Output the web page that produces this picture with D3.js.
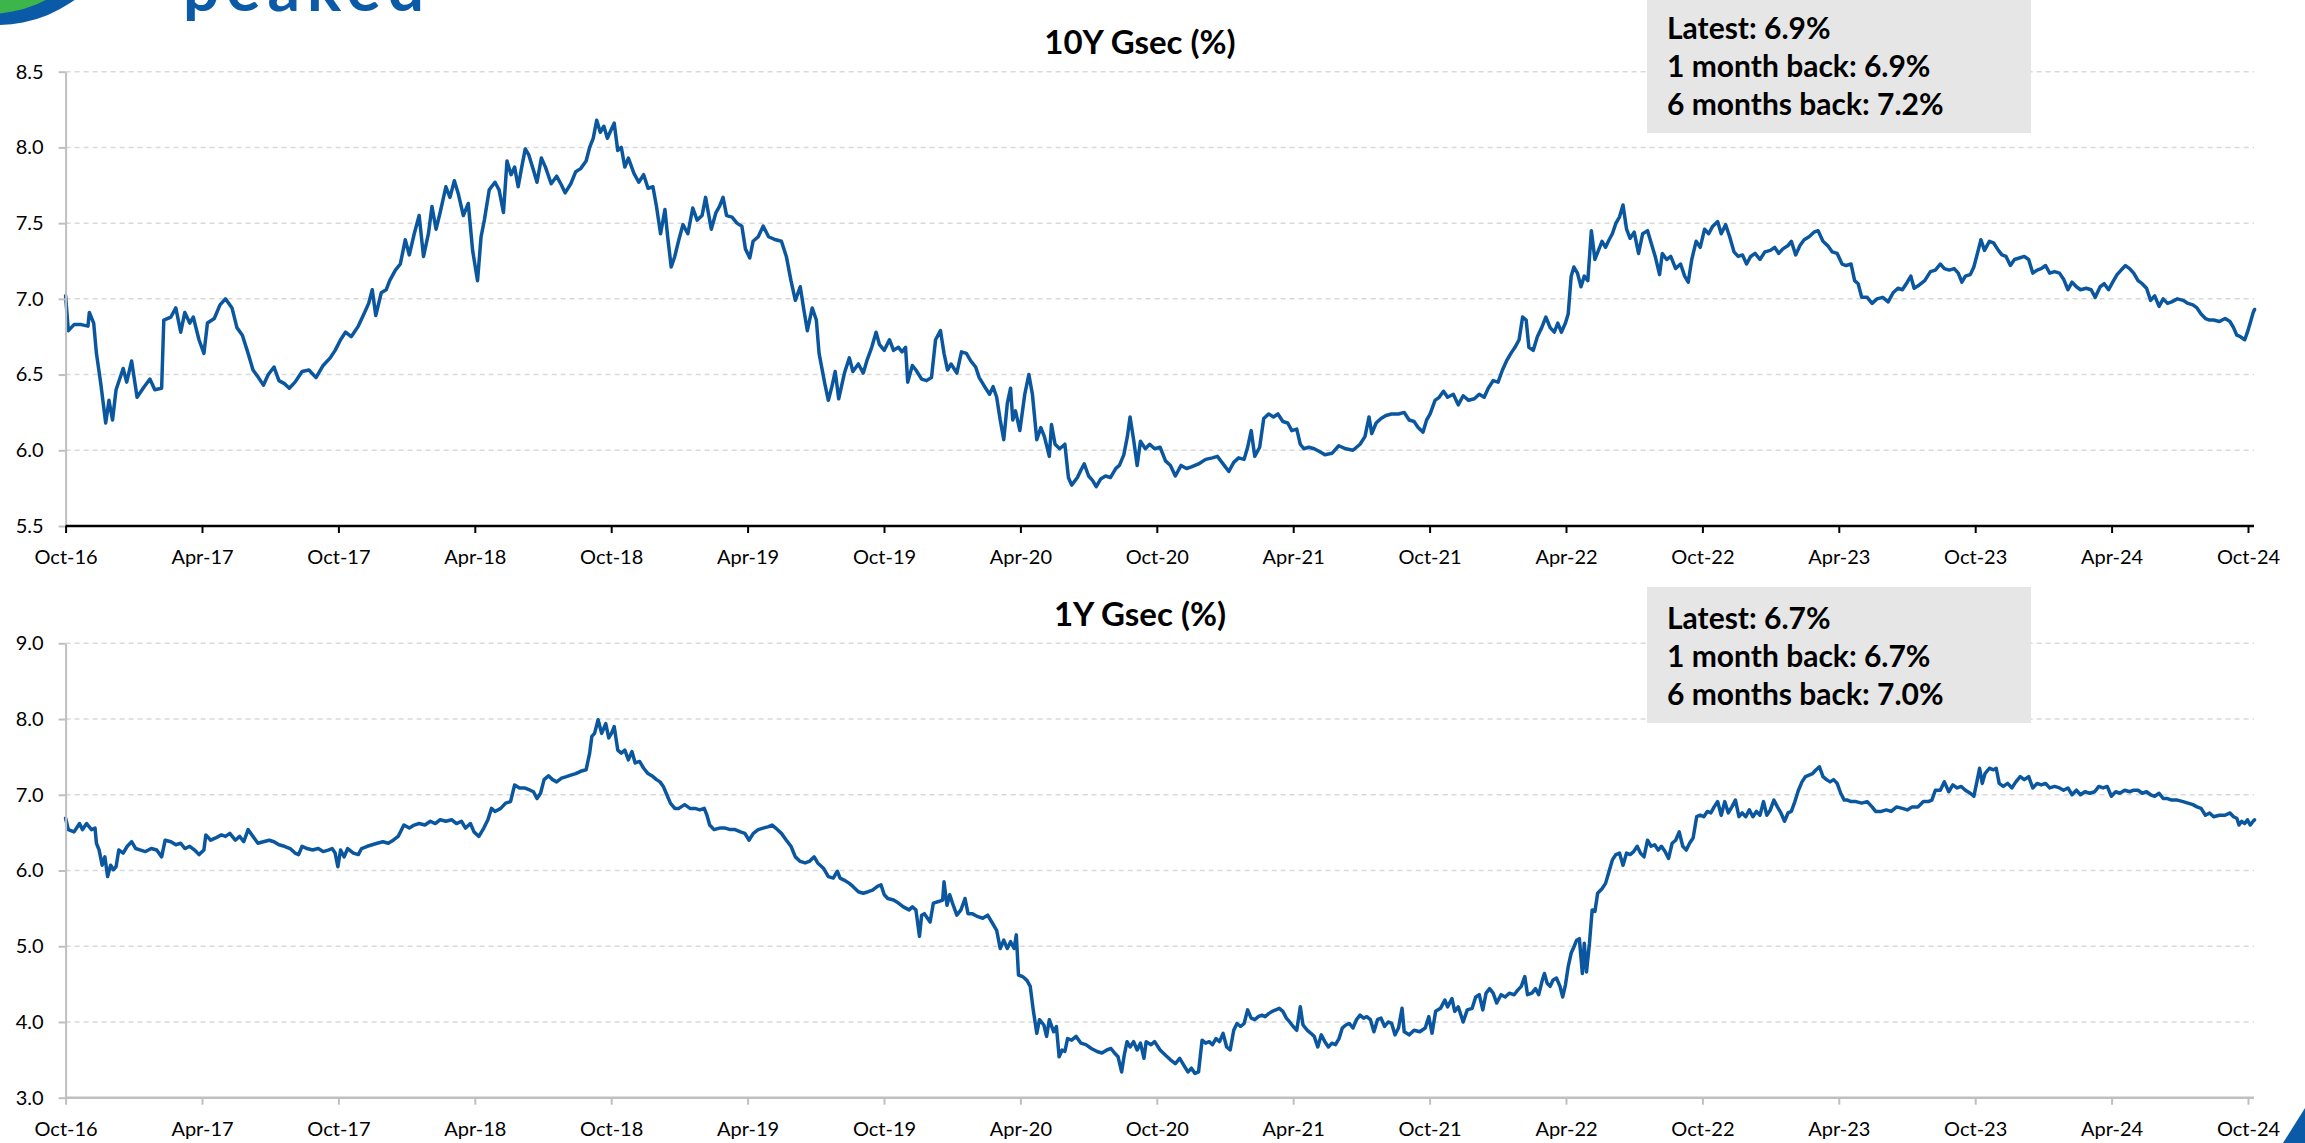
<!DOCTYPE html>
<html><head><meta charset="utf-8">
<script src="https://cdn.jsdelivr.net/npm/d3@7"></script>
<style>html,body{margin:0;padding:0;background:#fff;} svg{display:block;}</style>
</head><body><svg id="chart" width="2305" height="1143"></svg>
<script>
// ---------- DATA ----------
const tickLabels = ["Oct-16","Apr-17","Oct-17","Apr-18","Oct-18","Apr-19","Oct-19","Apr-20","Oct-20","Apr-21","Oct-21","Apr-22","Oct-22","Apr-23","Oct-23","Apr-24","Oct-24"];
const tenYearTicks = [5.5, 6.0, 6.5, 7.0, 7.5, 8.0, 8.5];
const oneYearTicks = [3.0, 4.0, 5.0, 6.0, 7.0, 8.0, 9.0];
const tenYearTitle = "10Y Gsec (%)";
const oneYearTitle = "1Y Gsec (%)";
const tenYearInfo = ["Latest: 6.9%", "1 month back: 6.9%", "6 months back: 7.2%"];
const oneYearInfo = ["Latest: 6.7%", "1 month back: 6.7%", "6 months back: 7.0%"];

// [decimal year, yield %]
const tenYearSeries = [[2016.750,7.02],[2016.760,6.79],[2016.781,6.83],[2016.807,6.83],[2016.832,6.82],[2016.837,6.91],[2016.853,6.84],[2016.863,6.64],[2016.879,6.44],[2016.897,6.18],[2016.909,6.33],[2016.922,6.20],[2016.935,6.40],[2016.961,6.54],[2016.974,6.45],[2016.992,6.59],[2017.012,6.35],[2017.038,6.42],[2017.059,6.47],[2017.077,6.40],[2017.102,6.41],[2017.110,6.86],[2017.136,6.88],[2017.154,6.94],[2017.172,6.78],[2017.187,6.91],[2017.205,6.84],[2017.218,6.88],[2017.239,6.73],[2017.257,6.64],[2017.270,6.84],[2017.295,6.87],[2017.316,6.96],[2017.336,7.00],[2017.360,6.94],[2017.378,6.81],[2017.398,6.76],[2017.419,6.64],[2017.437,6.53],[2017.457,6.48],[2017.475,6.43],[2017.493,6.50],[2017.514,6.55],[2017.532,6.46],[2017.552,6.44],[2017.570,6.41],[2017.591,6.45],[2017.617,6.52],[2017.642,6.53],[2017.668,6.48],[2017.694,6.56],[2017.720,6.61],[2017.738,6.66],[2017.758,6.73],[2017.776,6.78],[2017.797,6.75],[2017.823,6.82],[2017.841,6.89],[2017.861,6.97],[2017.874,7.06],[2017.887,6.89],[2017.907,7.04],[2017.925,7.06],[2017.938,7.12],[2017.959,7.19],[2017.977,7.23],[2017.995,7.39],[2018.010,7.29],[2018.028,7.43],[2018.046,7.55],[2018.062,7.28],[2018.080,7.43],[2018.093,7.61],[2018.108,7.46],[2018.123,7.57],[2018.144,7.74],[2018.159,7.67],[2018.175,7.78],[2018.190,7.69],[2018.208,7.55],[2018.226,7.63],[2018.242,7.32],[2018.260,7.12],[2018.273,7.41],[2018.285,7.52],[2018.303,7.72],[2018.324,7.77],[2018.339,7.72],[2018.355,7.57],[2018.368,7.91],[2018.383,7.82],[2018.396,7.87],[2018.409,7.74],[2018.422,7.87],[2018.435,7.99],[2018.448,7.95],[2018.465,7.85],[2018.478,7.77],[2018.494,7.93],[2018.509,7.87],[2018.530,7.76],[2018.550,7.81],[2018.568,7.75],[2018.581,7.70],[2018.602,7.76],[2018.620,7.84],[2018.638,7.86],[2018.658,7.91],[2018.671,8.00],[2018.684,8.06],[2018.697,8.18],[2018.710,8.10],[2018.723,8.14],[2018.736,8.06],[2018.748,8.11],[2018.761,8.16],[2018.774,7.98],[2018.787,8.00],[2018.800,7.87],[2018.813,7.93],[2018.833,7.83],[2018.851,7.77],[2018.869,7.82],[2018.885,7.73],[2018.903,7.74],[2018.916,7.61],[2018.931,7.43],[2018.947,7.59],[2018.957,7.41],[2018.970,7.21],[2018.983,7.28],[2018.998,7.39],[2019.013,7.49],[2019.031,7.43],[2019.049,7.60],[2019.065,7.52],[2019.083,7.55],[2019.096,7.67],[2019.117,7.46],[2019.134,7.57],[2019.147,7.61],[2019.160,7.67],[2019.173,7.55],[2019.193,7.54],[2019.211,7.50],[2019.229,7.48],[2019.242,7.33],[2019.258,7.27],[2019.270,7.38],[2019.289,7.41],[2019.307,7.48],[2019.327,7.41],[2019.353,7.39],[2019.374,7.38],[2019.392,7.28],[2019.409,7.12],[2019.425,6.99],[2019.443,7.08],[2019.456,6.93],[2019.469,6.79],[2019.487,6.94],[2019.502,6.86],[2019.512,6.64],[2019.533,6.44],[2019.546,6.33],[2019.559,6.42],[2019.571,6.52],[2019.584,6.34],[2019.605,6.51],[2019.623,6.61],[2019.636,6.52],[2019.656,6.57],[2019.674,6.51],[2019.687,6.59],[2019.705,6.68],[2019.721,6.78],[2019.733,6.70],[2019.751,6.66],[2019.770,6.73],[2019.785,6.66],[2019.803,6.68],[2019.816,6.65],[2019.829,6.68],[2019.837,6.45],[2019.854,6.56],[2019.867,6.53],[2019.888,6.47],[2019.906,6.46],[2019.924,6.48],[2019.939,6.73],[2019.957,6.79],[2019.970,6.64],[2019.983,6.53],[2019.996,6.57],[2020.017,6.51],[2020.034,6.65],[2020.052,6.64],[2020.068,6.59],[2020.086,6.55],[2020.099,6.48],[2020.119,6.42],[2020.137,6.37],[2020.150,6.42],[2020.163,6.35],[2020.176,6.20],[2020.189,6.07],[2020.202,6.31],[2020.214,6.41],[2020.222,6.20],[2020.232,6.26],[2020.248,6.13],[2020.266,6.37],[2020.281,6.50],[2020.294,6.37],[2020.310,6.07],[2020.325,6.15],[2020.338,6.09],[2020.356,5.96],[2020.364,6.17],[2020.377,6.04],[2020.394,6.01],[2020.413,6.04],[2020.426,5.82],[2020.438,5.77],[2020.459,5.82],[2020.472,5.87],[2020.484,5.91],[2020.500,5.83],[2020.515,5.80],[2020.528,5.76],[2020.544,5.81],[2020.562,5.83],[2020.580,5.82],[2020.600,5.88],[2020.613,5.90],[2020.629,5.97],[2020.642,6.09],[2020.652,6.22],[2020.665,6.07],[2020.678,5.90],[2020.690,6.06],[2020.708,6.01],[2020.724,6.04],[2020.742,6.01],[2020.762,6.02],[2020.782,5.93],[2020.800,5.90],[2020.818,5.83],[2020.839,5.90],[2020.859,5.88],[2020.877,5.89],[2020.903,5.91],[2020.929,5.94],[2020.954,5.95],[2020.972,5.96],[2020.993,5.91],[2021.014,5.86],[2021.032,5.92],[2021.050,5.95],[2021.070,5.94],[2021.083,6.02],[2021.096,6.13],[2021.109,5.96],[2021.127,6.02],[2021.142,6.21],[2021.160,6.24],[2021.178,6.22],[2021.194,6.24],[2021.212,6.19],[2021.230,6.18],[2021.245,6.13],[2021.263,6.14],[2021.276,6.04],[2021.289,6.01],[2021.307,6.02],[2021.327,6.01],[2021.348,5.99],[2021.366,5.97],[2021.392,5.98],[2021.417,6.03],[2021.443,6.01],[2021.469,6.00],[2021.495,6.04],[2021.513,6.09],[2021.528,6.22],[2021.538,6.11],[2021.554,6.18],[2021.572,6.21],[2021.590,6.23],[2021.610,6.24],[2021.636,6.24],[2021.657,6.25],[2021.675,6.20],[2021.693,6.19],[2021.708,6.15],[2021.726,6.12],[2021.739,6.20],[2021.752,6.24],[2021.770,6.33],[2021.785,6.35],[2021.801,6.39],[2021.816,6.35],[2021.837,6.37],[2021.855,6.30],[2021.873,6.36],[2021.893,6.33],[2021.914,6.34],[2021.932,6.37],[2021.950,6.35],[2021.965,6.41],[2021.983,6.46],[2022.001,6.45],[2022.017,6.53],[2022.032,6.59],[2022.048,6.64],[2022.063,6.68],[2022.078,6.73],[2022.091,6.88],[2022.104,6.86],[2022.114,6.68],[2022.130,6.66],[2022.145,6.75],[2022.161,6.81],[2022.176,6.88],[2022.192,6.81],[2022.207,6.78],[2022.220,6.84],[2022.233,6.78],[2022.248,6.84],[2022.258,6.90],[2022.269,7.15],[2022.279,7.21],[2022.292,7.17],[2022.305,7.08],[2022.317,7.15],[2022.330,7.12],[2022.343,7.45],[2022.356,7.26],[2022.369,7.32],[2022.382,7.38],[2022.395,7.34],[2022.408,7.39],[2022.420,7.43],[2022.433,7.50],[2022.446,7.54],[2022.459,7.62],[2022.472,7.46],[2022.485,7.40],[2022.500,7.44],[2022.516,7.30],[2022.531,7.43],[2022.549,7.45],[2022.562,7.37],[2022.577,7.28],[2022.593,7.16],[2022.603,7.30],[2022.619,7.26],[2022.634,7.28],[2022.652,7.20],[2022.670,7.23],[2022.685,7.15],[2022.698,7.11],[2022.711,7.26],[2022.727,7.38],[2022.742,7.34],[2022.758,7.46],[2022.773,7.43],[2022.788,7.48],[2022.806,7.51],[2022.819,7.43],[2022.835,7.49],[2022.850,7.41],[2022.866,7.31],[2022.881,7.28],[2022.897,7.29],[2022.912,7.23],[2022.927,7.28],[2022.943,7.30],[2022.961,7.26],[2022.979,7.31],[2022.999,7.32],[2023.015,7.34],[2023.030,7.30],[2023.045,7.33],[2023.063,7.35],[2023.076,7.38],[2023.092,7.29],[2023.107,7.35],[2023.123,7.39],[2023.141,7.41],[2023.159,7.44],[2023.174,7.45],[2023.192,7.38],[2023.210,7.35],[2023.226,7.31],[2023.244,7.30],[2023.262,7.23],[2023.277,7.22],[2023.295,7.23],[2023.308,7.12],[2023.321,7.10],[2023.334,7.01],[2023.354,7.01],[2023.372,6.97],[2023.390,7.00],[2023.411,7.01],[2023.431,6.98],[2023.449,7.04],[2023.467,7.07],[2023.483,7.06],[2023.501,7.11],[2023.514,7.15],[2023.526,7.07],[2023.544,7.09],[2023.565,7.12],[2023.586,7.18],[2023.604,7.19],[2023.622,7.23],[2023.637,7.20],[2023.655,7.19],[2023.673,7.20],[2023.688,7.17],[2023.701,7.11],[2023.714,7.15],[2023.732,7.16],[2023.745,7.21],[2023.761,7.32],[2023.771,7.39],[2023.784,7.32],[2023.802,7.38],[2023.817,7.37],[2023.835,7.32],[2023.848,7.29],[2023.863,7.28],[2023.879,7.22],[2023.894,7.26],[2023.912,7.27],[2023.930,7.28],[2023.946,7.26],[2023.961,7.17],[2023.977,7.19],[2023.992,7.20],[2024.008,7.22],[2024.023,7.17],[2024.041,7.18],[2024.059,7.17],[2024.074,7.13],[2024.090,7.06],[2024.105,7.11],[2024.121,7.08],[2024.136,7.06],[2024.157,7.07],[2024.175,7.06],[2024.190,7.01],[2024.208,7.08],[2024.223,7.10],[2024.239,7.06],[2024.254,7.11],[2024.270,7.16],[2024.285,7.19],[2024.301,7.22],[2024.316,7.20],[2024.331,7.17],[2024.347,7.12],[2024.362,7.10],[2024.378,7.07],[2024.393,6.99],[2024.408,7.02],[2024.424,6.95],[2024.439,7.00],[2024.455,6.97],[2024.470,6.98],[2024.491,7.00],[2024.512,6.99],[2024.530,6.97],[2024.548,6.96],[2024.563,6.94],[2024.578,6.90],[2024.594,6.87],[2024.609,6.86],[2024.624,6.86],[2024.645,6.85],[2024.666,6.87],[2024.684,6.85],[2024.697,6.81],[2024.709,6.76],[2024.722,6.75],[2024.738,6.73],[2024.748,6.78],[2024.758,6.84],[2024.769,6.91],[2024.774,6.93]];

const oneYearSeries = [[2016.750,6.69],[2016.760,6.54],[2016.781,6.51],[2016.801,6.62],[2016.812,6.54],[2016.827,6.62],[2016.845,6.54],[2016.858,6.56],[2016.863,6.36],[2016.873,6.27],[2016.884,6.07],[2016.894,6.18],[2016.904,5.92],[2016.915,6.07],[2016.925,6.01],[2016.935,6.05],[2016.945,6.27],[2016.961,6.23],[2016.976,6.32],[2016.992,6.38],[2017.007,6.29],[2017.025,6.27],[2017.043,6.25],[2017.064,6.29],[2017.084,6.27],[2017.102,6.18],[2017.115,6.40],[2017.136,6.38],[2017.154,6.34],[2017.172,6.36],[2017.187,6.29],[2017.205,6.32],[2017.223,6.27],[2017.239,6.21],[2017.257,6.27],[2017.264,6.47],[2017.282,6.40],[2017.300,6.43],[2017.321,6.47],[2017.336,6.45],[2017.352,6.49],[2017.372,6.40],[2017.388,6.45],[2017.403,6.38],[2017.419,6.54],[2017.437,6.45],[2017.455,6.36],[2017.475,6.38],[2017.496,6.40],[2017.514,6.38],[2017.532,6.34],[2017.552,6.32],[2017.573,6.29],[2017.591,6.23],[2017.604,6.21],[2017.617,6.32],[2017.635,6.29],[2017.655,6.27],[2017.676,6.29],[2017.694,6.25],[2017.712,6.27],[2017.727,6.29],[2017.738,6.23],[2017.748,6.05],[2017.758,6.27],[2017.771,6.18],[2017.784,6.29],[2017.805,6.23],[2017.823,6.21],[2017.835,6.29],[2017.856,6.32],[2017.874,6.34],[2017.892,6.36],[2017.913,6.38],[2017.933,6.36],[2017.951,6.40],[2017.969,6.45],[2017.990,6.60],[2018.010,6.56],[2018.028,6.60],[2018.046,6.62],[2018.067,6.60],[2018.087,6.65],[2018.105,6.62],[2018.123,6.67],[2018.144,6.65],[2018.165,6.67],[2018.183,6.62],[2018.201,6.65],[2018.216,6.56],[2018.234,6.62],[2018.247,6.51],[2018.265,6.45],[2018.283,6.56],[2018.298,6.67],[2018.311,6.82],[2018.324,6.78],[2018.345,6.82],[2018.363,6.89],[2018.381,6.91],[2018.396,7.13],[2018.414,7.09],[2018.432,7.09],[2018.453,7.06],[2018.465,7.04],[2018.478,6.95],[2018.491,7.02],[2018.504,7.20],[2018.520,7.25],[2018.535,7.20],[2018.550,7.17],[2018.568,7.22],[2018.586,7.24],[2018.602,7.26],[2018.620,7.28],[2018.638,7.31],[2018.658,7.33],[2018.671,7.55],[2018.679,7.77],[2018.689,7.81],[2018.702,7.99],[2018.715,7.81],[2018.730,7.94],[2018.741,7.75],[2018.751,7.81],[2018.761,7.90],[2018.774,7.59],[2018.787,7.55],[2018.800,7.59],[2018.813,7.46],[2018.826,7.57],[2018.838,7.42],[2018.854,7.44],[2018.869,7.35],[2018.885,7.28],[2018.903,7.24],[2018.916,7.20],[2018.929,7.17],[2018.941,7.11],[2018.954,7.00],[2018.967,6.89],[2018.983,6.82],[2018.998,6.82],[2019.019,6.87],[2019.039,6.82],[2019.057,6.82],[2019.075,6.80],[2019.091,6.82],[2019.101,6.73],[2019.111,6.60],[2019.127,6.54],[2019.147,6.56],[2019.168,6.56],[2019.186,6.54],[2019.204,6.54],[2019.224,6.51],[2019.240,6.49],[2019.255,6.40],[2019.271,6.49],[2019.289,6.54],[2019.307,6.56],[2019.327,6.58],[2019.340,6.60],[2019.353,6.56],[2019.374,6.49],[2019.392,6.40],[2019.409,6.32],[2019.425,6.18],[2019.443,6.12],[2019.461,6.10],[2019.476,6.12],[2019.494,6.18],[2019.507,6.10],[2019.528,6.03],[2019.546,5.92],[2019.564,5.90],[2019.579,5.99],[2019.589,5.90],[2019.605,5.87],[2019.623,5.83],[2019.636,5.79],[2019.656,5.72],[2019.674,5.70],[2019.692,5.72],[2019.708,5.74],[2019.726,5.79],[2019.739,5.81],[2019.751,5.68],[2019.764,5.63],[2019.785,5.61],[2019.803,5.57],[2019.821,5.52],[2019.842,5.48],[2019.854,5.52],[2019.867,5.48],[2019.880,5.13],[2019.888,5.41],[2019.898,5.43],[2019.919,5.32],[2019.931,5.57],[2019.950,5.59],[2019.965,5.61],[2019.970,5.85],[2019.981,5.54],[2019.991,5.68],[2020.001,5.57],[2020.017,5.41],[2020.032,5.48],[2020.047,5.63],[2020.058,5.43],[2020.073,5.43],[2020.094,5.39],[2020.112,5.37],[2020.130,5.41],[2020.145,5.32],[2020.163,5.21],[2020.176,4.97],[2020.189,5.08],[2020.202,4.97],[2020.214,5.06],[2020.227,4.97],[2020.235,5.15],[2020.243,4.62],[2020.258,4.60],[2020.274,4.55],[2020.286,4.47],[2020.297,4.16],[2020.310,3.85],[2020.320,4.03],[2020.336,3.96],[2020.346,3.81],[2020.356,4.03],[2020.372,3.87],[2020.382,3.94],[2020.392,3.54],[2020.403,3.63],[2020.413,3.61],[2020.423,3.78],[2020.438,3.76],[2020.454,3.81],[2020.472,3.72],[2020.490,3.70],[2020.510,3.65],[2020.531,3.61],[2020.549,3.59],[2020.567,3.63],[2020.582,3.65],[2020.595,3.59],[2020.608,3.54],[2020.621,3.34],[2020.631,3.57],[2020.641,3.74],[2020.652,3.67],[2020.665,3.74],[2020.678,3.63],[2020.690,3.72],[2020.703,3.52],[2020.711,3.74],[2020.729,3.70],[2020.742,3.74],[2020.762,3.63],[2020.782,3.56],[2020.800,3.50],[2020.818,3.45],[2020.834,3.52],[2020.852,3.41],[2020.864,3.34],[2020.877,3.39],[2020.890,3.32],[2020.903,3.34],[2020.916,3.76],[2020.929,3.72],[2020.942,3.74],[2020.954,3.70],[2020.967,3.78],[2020.980,3.74],[2020.993,3.85],[2021.006,3.67],[2021.019,3.63],[2021.032,3.89],[2021.044,3.98],[2021.057,3.94],[2021.070,3.98],[2021.083,4.16],[2021.096,4.05],[2021.109,4.03],[2021.122,4.07],[2021.135,4.09],[2021.147,4.07],[2021.160,4.11],[2021.173,4.14],[2021.186,4.16],[2021.199,4.18],[2021.212,4.14],[2021.225,4.05],[2021.237,4.00],[2021.250,3.94],[2021.263,3.89],[2021.276,4.20],[2021.286,3.96],[2021.302,3.89],[2021.315,3.85],[2021.327,3.81],[2021.340,3.67],[2021.353,3.83],[2021.366,3.74],[2021.379,3.67],[2021.392,3.72],[2021.405,3.70],[2021.418,3.78],[2021.430,3.92],[2021.443,3.96],[2021.456,3.98],[2021.469,3.92],[2021.482,4.03],[2021.495,4.09],[2021.508,4.05],[2021.520,4.07],[2021.533,4.03],[2021.546,3.87],[2021.559,4.03],[2021.572,4.05],[2021.585,3.94],[2021.598,4.00],[2021.611,3.98],[2021.623,3.83],[2021.636,3.92],[2021.649,4.18],[2021.657,3.87],[2021.675,3.83],[2021.693,3.89],[2021.714,3.87],[2021.734,3.92],[2021.747,4.07],[2021.759,3.85],[2021.772,4.14],[2021.790,4.18],[2021.806,4.29],[2021.816,4.20],[2021.832,4.31],[2021.842,4.14],[2021.855,4.20],[2021.873,4.00],[2021.888,4.16],[2021.906,4.18],[2021.919,4.33],[2021.932,4.36],[2021.945,4.16],[2021.957,4.38],[2021.970,4.44],[2021.983,4.38],[2021.996,4.25],[2022.012,4.36],[2022.027,4.33],[2022.042,4.38],[2022.060,4.36],[2022.073,4.42],[2022.086,4.47],[2022.099,4.60],[2022.109,4.36],[2022.125,4.38],[2022.138,4.44],[2022.150,4.36],[2022.163,4.55],[2022.171,4.64],[2022.181,4.51],[2022.192,4.47],[2022.202,4.55],[2022.215,4.58],[2022.228,4.47],[2022.238,4.33],[2022.248,4.49],[2022.258,4.73],[2022.269,4.91],[2022.279,4.99],[2022.289,5.08],[2022.299,5.10],[2022.310,4.64],[2022.317,5.04],[2022.325,4.66],[2022.336,5.04],[2022.346,5.48],[2022.356,5.46],[2022.366,5.70],[2022.382,5.76],[2022.395,5.83],[2022.408,5.99],[2022.420,6.14],[2022.433,6.21],[2022.446,6.23],[2022.459,6.07],[2022.472,6.23],[2022.485,6.21],[2022.498,6.25],[2022.511,6.32],[2022.523,6.23],[2022.536,6.18],[2022.549,6.40],[2022.562,6.32],[2022.575,6.34],[2022.588,6.27],[2022.600,6.32],[2022.613,6.25],[2022.626,6.16],[2022.639,6.36],[2022.652,6.40],[2022.665,6.51],[2022.678,6.32],[2022.691,6.27],[2022.703,6.36],[2022.716,6.43],[2022.729,6.71],[2022.742,6.73],[2022.755,6.71],[2022.768,6.78],[2022.781,6.76],[2022.793,6.84],[2022.806,6.91],[2022.819,6.73],[2022.832,6.91],[2022.845,6.76],[2022.858,6.84],[2022.871,6.93],[2022.884,6.71],[2022.896,6.76],[2022.909,6.71],[2022.922,6.80],[2022.935,6.71],[2022.948,6.78],[2022.961,6.73],[2022.974,6.91],[2022.986,6.73],[2022.999,6.80],[2023.012,6.93],[2023.025,6.84],[2023.038,6.76],[2023.051,6.65],[2023.064,6.76],[2023.076,6.78],[2023.089,6.91],[2023.102,7.06],[2023.115,7.17],[2023.128,7.24],[2023.141,7.26],[2023.154,7.28],[2023.167,7.33],[2023.179,7.37],[2023.192,7.24],[2023.205,7.20],[2023.218,7.17],[2023.231,7.20],[2023.244,7.15],[2023.257,7.02],[2023.270,6.93],[2023.282,6.93],[2023.295,6.91],[2023.313,6.91],[2023.334,6.89],[2023.354,6.91],[2023.372,6.84],[2023.385,6.78],[2023.406,6.78],[2023.424,6.80],[2023.442,6.78],[2023.462,6.84],[2023.483,6.82],[2023.501,6.80],[2023.519,6.84],[2023.540,6.84],[2023.560,6.91],[2023.578,6.91],[2023.591,6.93],[2023.604,7.06],[2023.622,7.06],[2023.637,7.17],[2023.653,7.04],[2023.668,7.13],[2023.684,7.09],[2023.699,7.11],[2023.714,7.06],[2023.732,7.02],[2023.745,6.98],[2023.755,7.15],[2023.766,7.35],[2023.776,7.15],[2023.786,7.28],[2023.802,7.35],[2023.817,7.33],[2023.827,7.35],[2023.838,7.15],[2023.853,7.11],[2023.869,7.15],[2023.884,7.09],[2023.899,7.17],[2023.915,7.24],[2023.930,7.20],[2023.946,7.24],[2023.961,7.09],[2023.977,7.15],[2023.992,7.13],[2024.008,7.15],[2024.023,7.09],[2024.041,7.11],[2024.059,7.09],[2024.074,7.06],[2024.090,7.09],[2024.105,7.00],[2024.121,7.06],[2024.136,7.00],[2024.152,7.04],[2024.170,7.02],[2024.188,7.04],[2024.203,7.11],[2024.219,7.09],[2024.234,7.11],[2024.249,6.98],[2024.265,7.04],[2024.280,7.02],[2024.298,7.06],[2024.316,7.04],[2024.331,7.06],[2024.347,7.06],[2024.362,7.02],[2024.378,7.04],[2024.393,7.00],[2024.408,6.98],[2024.424,7.02],[2024.439,6.95],[2024.455,6.95],[2024.470,6.93],[2024.491,6.93],[2024.512,6.91],[2024.530,6.89],[2024.548,6.87],[2024.563,6.84],[2024.578,6.82],[2024.594,6.73],[2024.609,6.76],[2024.624,6.71],[2024.645,6.73],[2024.666,6.73],[2024.684,6.76],[2024.697,6.71],[2024.709,6.69],[2024.717,6.60],[2024.727,6.65],[2024.738,6.62],[2024.748,6.67],[2024.758,6.60],[2024.769,6.65],[2024.774,6.67]];

// ---------- RENDER ----------
const FONT = 'Lato, "Open Sans", "DejaVu Sans", sans-serif';
const LINE_COLOR = "#0b579f";
const BRAND_BLUE = "#0b5aa8";
const monthIndex = {Jan:0,Feb:1,Mar:2,Apr:3,May:4,Jun:5,Jul:6,Aug:7,Sep:8,Oct:9,Nov:10,Dec:11};
const labelToYear = l => { const [m, y] = l.split("-"); return 2000 + (+y) + monthIndex[m] / 12; };
const tickYears = tickLabels.map(labelToYear);

const svg = d3.select("#chart");
svg.append("rect").attr("width", 2305).attr("height", 1143).attr("fill", "#fff");

const plotLeft = 65.6, plotRight = 2254;
const x = d3.scaleLinear().domain([tickYears[0], tickYears[tickYears.length - 1]]).range([plotLeft, 2248]);

function drawPanel(cfg) {
  const g = svg.append("g");
  const y = d3.scaleLinear().domain([cfg.ticks[0], cfg.ticks[cfg.ticks.length - 1]]).range([cfg.bottom, cfg.top]);

  // gridlines
  g.append("g").selectAll("line").data(cfg.ticks.slice(1)).join("line")
    .attr("x1", plotLeft).attr("x2", plotRight)
    .attr("y1", d => y(d)).attr("y2", d => y(d))
    .attr("stroke", "#d9d9d9").attr("stroke-width", 1.5).attr("stroke-dasharray", "5,4");

  // info box
  const bx = 1647, bw = 384;
  g.append("rect").attr("x", bx).attr("y", cfg.boxTop).attr("width", bw).attr("height", 136).attr("fill", "#e6e6e6");
  g.append("g").selectAll("text").data(cfg.info).join("text")
    .attr("x", bx + 20).attr("y", (d, i) => cfg.boxTop + 42 + i * 38)
    .attr("font-family", FONT).attr("font-weight", 700).attr("font-size", 30).attr("fill", "#000")
    .text(d => d);

  // title
  g.append("text").attr("x", 1140).attr("y", cfg.titleY).attr("text-anchor", "middle")
    .attr("font-family", FONT).attr("font-weight", 700).attr("font-size", 33).attr("fill", "#000")
    .text(cfg.title);

  // series line
  const line = d3.line().x(d => x(d[0])).y(d => y(d[1]));
  g.append("path").datum(cfg.series).attr("d", line)
    .attr("fill", "none").attr("stroke", LINE_COLOR).attr("stroke-width", 3.5)
    .attr("stroke-linejoin", "round").attr("stroke-linecap", "round");

  // y axis
  const yAxis = d3.axisLeft(y).tickValues(cfg.ticks).tickFormat(d3.format(".1f")).tickSize(7).tickSizeOuter(0).tickPadding(15);
  const ya = g.append("g").attr("transform", `translate(${plotLeft},0)`).call(yAxis);
  ya.select(".domain").attr("stroke", "#bfbfbf").attr("stroke-width", 2);
  ya.selectAll(".tick line").attr("stroke", "#bfbfbf").attr("stroke-width", 2);
  ya.selectAll(".tick text").attr("font-family", FONT).attr("font-size", 20).attr("fill", "#000");

  // x axis
  const xAxis = d3.axisBottom(x).tickValues(tickYears).tickFormat((d, i) => tickLabels[i]).tickSize(7).tickSizeOuter(0).tickPadding(17);
  const xa = g.append("g").attr("transform", `translate(0,${cfg.bottom})`).call(xAxis);
  xa.select(".domain").remove();
  xa.append("line").attr("x1", plotLeft).attr("x2", plotRight).attr("y1", 0).attr("y2", 0)
    .attr("stroke", cfg.xAxisColor).attr("stroke-width", cfg.xAxisWidth);
  xa.selectAll(".tick line").attr("stroke", cfg.xAxisColor).attr("stroke-width", 2);
  xa.selectAll(".tick text").attr("font-family", FONT).attr("font-size", 20).attr("fill", "#000");
}

// branding fragments (cropped logo at top-left, corner accent at bottom-right)
svg.append("circle").attr("cx", -3).attr("cy", -108).attr("r", 133).attr("fill", BRAND_BLUE);
svg.append("circle").attr("cx", -12).attr("cy", -112).attr("r", 126).attr("fill", "#3db54a");
svg.append("text").attr("x", 183).attr("y", 11).attr("font-family", FONT).attr("font-weight", 700)
  .attr("font-size", 64).attr("letter-spacing", 7).attr("fill", BRAND_BLUE).text("peaked");
svg.append("polygon").attr("points", "2283,1143 2305,1108 2305,1143").attr("fill", BRAND_BLUE);

drawPanel({ ticks: tenYearTicks, top: 71.7, bottom: 526, series: tenYearSeries, title: tenYearTitle, titleY: 54,
  info: tenYearInfo, boxTop: -3, xAxisColor: "#000", xAxisWidth: 2.5 });
drawPanel({ ticks: oneYearTicks, top: 643.3, bottom: 1097.7, series: oneYearSeries, title: oneYearTitle, titleY: 626,
  info: oneYearInfo, boxTop: 587, xAxisColor: "#bfbfbf", xAxisWidth: 2.5 });
</script>
</body></html>
